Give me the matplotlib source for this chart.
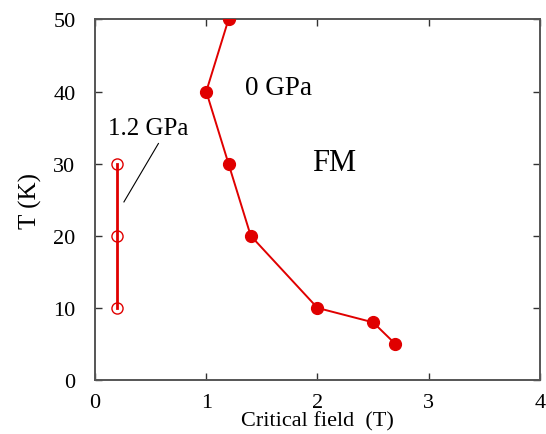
import matplotlib
matplotlib.use("Agg")
import matplotlib.pyplot as plt

# 0 GPa critical field vs temperature (filled)
field_0 = [1.2, 1.0, 1.2, 1.4, 2.0, 2.5, 2.7]
temp_0 = [50, 40, 30, 20, 10, 8, 5]

# 1.2 GPa (open)
field_12 = [0.2, 0.2, 0.2]
temp_12 = [30, 20, 10]

RED = "#e00000"
plt.rcParams["font.family"] = ["Liberation Serif", "DejaVu Serif"]

fig = plt.figure(figsize=(5.46, 4.35), dpi=100)
ax = fig.add_axes([0.174, 0.124, 0.815, 0.829])

ax.plot(field_0, temp_0, color=RED, lw=1.4, marker="o", ms=8.5,
        mfc=RED, mec=RED, zorder=3)
ax.plot(field_12, temp_12, color=RED, lw=2.0, marker="o", ms=8,
        mfc="none", mec=RED, mew=1.0, zorder=3)

ax.plot([0.57, 0.26], [32.8, 24.7], color="black", lw=0.8)
ax.text(0.12, 35.0, "1.2 GPa", fontsize=18, va="center", ha="left")
ax.text(1.35, 40.6, "0 GPa", fontsize=19.5, va="center", ha="left")
ax.text(1.95, 30.2, "FM", fontsize=22, va="center", ha="left")

ax.set_xlim(0, 4)
ax.set_ylim(0, 50)
ax.set_xticks([0, 1, 2, 3, 4])
ax.set_yticks([0, 10, 20, 30, 40, 50])
ax.tick_params(direction="in", top=True, right=True, length=5,
               width=1.0, labelsize=16, color="#333333")
ax.tick_params(axis="y", pad=14)
ax.tick_params(axis="x", pad=9)
for s in ax.spines.values():
    s.set_color("#555555")
    s.set_linewidth(1.4)

ax.set_xlabel("Critical field  (T)", fontsize=16, labelpad=0)
ax.set_ylabel("T (K)", fontsize=18, labelpad=8)

fig.savefig("out.png", dpi=100, facecolor="white")
